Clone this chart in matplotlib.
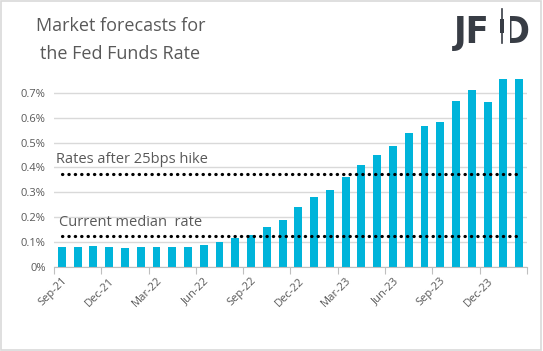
import matplotlib.pyplot as plt
from matplotlib.patches import Rectangle

plt.rcParams['font.family'] = ['Open Sans', 'DejaVu Sans']

# data set
months = ['Sep-21', 'Oct-21', 'Nov-21', 'Dec-21', 'Jan-22', 'Feb-22', 'Mar-22', 'Apr-22',
          'May-22', 'Jun-22', 'Jul-22', 'Aug-22', 'Sep-22', 'Oct-22', 'Nov-22', 'Dec-22',
          'Jan-23', 'Feb-23', 'Mar-23', 'Apr-23', 'May-23', 'Jun-23', 'Jul-23', 'Aug-23',
          'Sep-23', 'Oct-23', 'Nov-23', 'Dec-23', 'Jan-24', 'Feb-24']
rates = [0.080, 0.080, 0.084, 0.080, 0.076, 0.080, 0.080, 0.080, 0.080, 0.088,
         0.100, 0.115, 0.128, 0.161, 0.187, 0.241, 0.281, 0.308, 0.361, 0.408,
         0.448, 0.485, 0.537, 0.565, 0.581, 0.665, 0.710, 0.661, 0.754, 0.754]
current_rate = 0.125
hike_rate = 0.375
yticks = [0, 0.1, 0.2, 0.3, 0.4, 0.5, 0.6, 0.7]
ytick_labels = ['0%', '0.1%', '0.2%', '0.3%', '0.4%', '0.5%', '0.6%', '0.7%']

grey = '#595959'
logo = '#383d45'

fig = plt.figure(figsize=(5.43, 3.51), dpi=100)
fig.patches.append(Rectangle((0.002, 0.003), 0.994, 0.994, transform=fig.transFigure,
                             fill=False, edgecolor='#d9d9d9', linewidth=1.2))

ax = fig.add_axes([0.0994, 0.2393, 0.8711, 0.539])
x = list(range(len(months)))
ax.bar(x, rates, width=0.5, color='#00b4da', zorder=2)

# reference lines
dots = (0, (0.1, 1.9))
ax.plot([0, len(months) - 1], [hike_rate, hike_rate], color='black', linestyle=dots,
        linewidth=2.3, dash_capstyle='round', zorder=3)
ax.plot([0, len(months) - 1], [current_rate, current_rate], color='black', linestyle=dots,
        linewidth=2.3, dash_capstyle='round', zorder=3)
ax.text(-0.35, hike_rate + 0.025, 'Rates after 25bps hike', color=grey, fontsize=10.5, va='bottom')
ax.text(-0.2, current_rate + 0.025, 'Current median  rate', color=grey, fontsize=10.5, va='bottom')

ax.set_xlim(-0.5, len(months) - 0.5)
ax.set_ylim(0, 0.76)
ax.set_yticks(yticks)
ax.set_yticklabels(ytick_labels, color=grey, fontsize=8)
ax.yaxis.grid(True, color='#d9d9d9', linewidth=1)
ax.set_axisbelow(True)
ax.tick_params(axis='y', length=0, pad=6)

ax.set_xticks([i - 0.5 for i in range(0, len(months) + 1, 3)])
ax.set_xticklabels([])
ax.set_xticks(x[::3], minor=True)
ax.set_xticklabels(months[::3], minor=True, rotation=45, ha='right', rotation_mode='anchor',
                   color=grey, fontsize=8)
ax.tick_params(axis='x', which='major', length=5, color='#bfbfbf', direction='out')
ax.tick_params(axis='x', which='minor', length=0, pad=6)

for s in ['top', 'right', 'left']:
    ax.spines[s].set_visible(False)
ax.spines['bottom'].set_color('#bfbfbf')

fig.text(0.222, 0.925, 'Market forecasts for', ha='center', va='center', color=grey, fontsize=13)
fig.text(0.222, 0.847, 'the Fed Funds Rate', ha='center', va='center', color=grey, fontsize=13)

# logo: "JF", candle, "D"
fig.text(0.836, 0.878, 'JF', ha='left', va='baseline', color=logo, fontsize=27,
         fontweight='bold', family='DejaVu Sans', fontstretch='condensed')
fig.add_artist(plt.Line2D([0.9245, 0.9245], [0.878, 0.975], transform=fig.transFigure,
                          color=logo, linewidth=1.2))
fig.patches.append(Rectangle((0.9205, 0.905), 0.008, 0.04, transform=fig.transFigure,
                             facecolor=logo, edgecolor='none'))
fig.text(0.976, 0.878, 'D', ha='right', va='baseline', color=logo, fontsize=27,
         fontweight='bold', family='DejaVu Sans', fontstretch='condensed')
fig.patches.append(Rectangle((0.928, 0.87), 0.012, 0.12, transform=fig.transFigure,
                             facecolor='white', edgecolor='none', zorder=5))

plt.savefig('out.png', dpi=100)
